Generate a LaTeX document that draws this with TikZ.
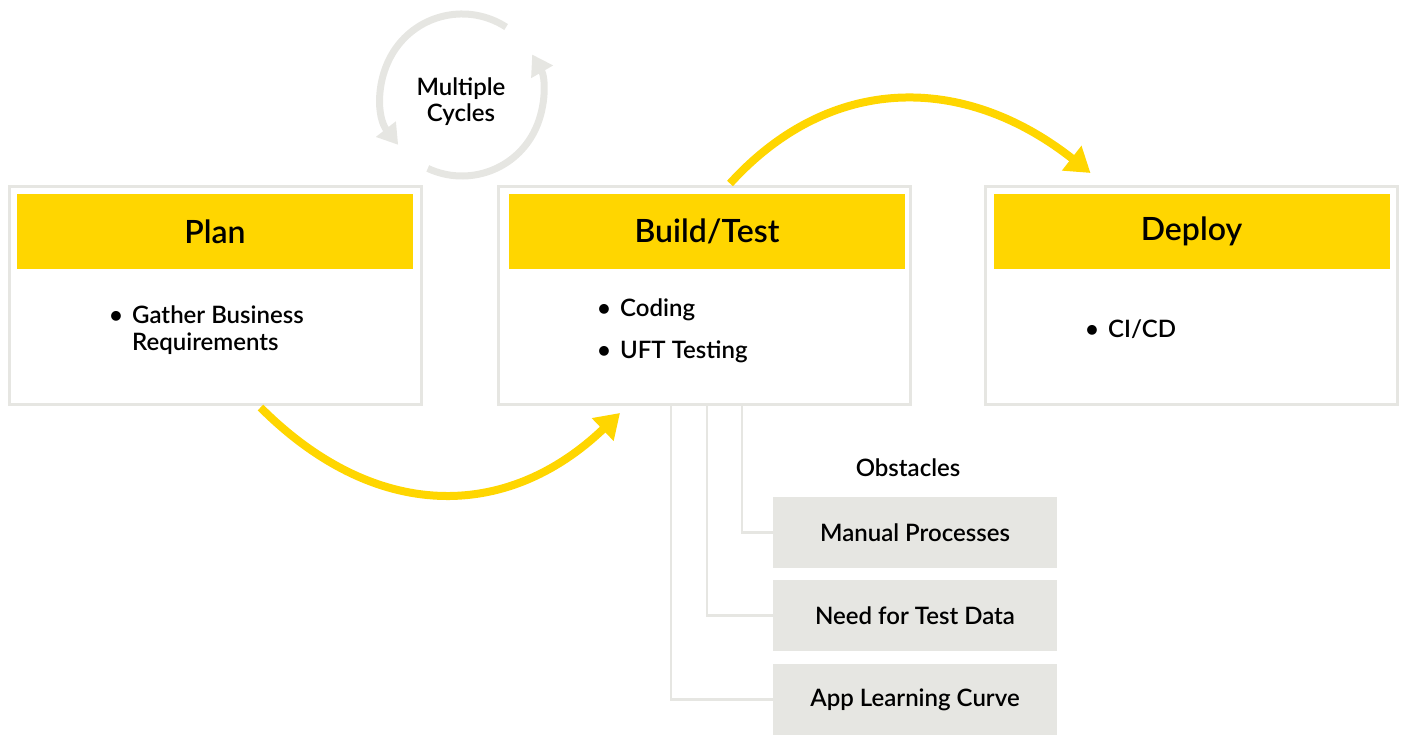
\documentclass[tikz,border=0pt]{standalone}
\usepackage{fontspec}
\setmainfont{Lato}[BoldFont={Lato Semibold}]
\usetikzlibrary{arrows.meta}
\definecolor{gold}{HTML}{FFD600}
\definecolor{pale}{HTML}{E6E6E2}
\begin{document}
\begin{tikzpicture}
[x=1pt,y=1pt,
 frame/.style={draw=pale,line width=3pt,minimum width=412pt,minimum height=218pt,inner sep=0pt},
 head/.style={fill=gold,minimum width=396pt,minimum height=75pt,inner sep=0pt,font=\fontsize{32}{38}\selectfont\bfseries},
 items/.style={anchor=west,inner sep=0pt,align=left,font=\fontsize{24}{27}\selectfont\bfseries},
 label/.style={inner sep=0pt,align=center,font=\fontsize{24}{26}\selectfont\bfseries},
 obstacle/.style={fill=pale,minimum width=284pt,minimum height=71pt,inner sep=0pt,font=\fontsize{24}{26}\selectfont\bfseries},
 flow/.style={draw=gold,line width=8pt,-{Triangle[length=24pt,width=30pt]}},
 turn/.style={draw=pale,line width=7pt,-{Triangle[length=20pt,width=24pt]}},
 link/.style={draw=pale,line width=2.5pt}]
\useasboundingbox (0,0) rectangle (1404,735);
\node[frame] (plan) at (215.5,439.5) {};
\node[head] (planhead) at (215,503.5) {Plan};
\node[items] (planitems) at (109,403) {\begin{tabular}{@{}l@{\hspace{9pt}}l@{}}\textbullet & Gather Business\\ & Requirements\end{tabular}};
\node[frame] (build) at (704,439.5) {};
\node[head] (buildhead) at (707,503.5) {Build/Test};
\node[items] (builditems) at (597,403) {\begin{tabular}{@{}l@{\hspace{9pt}}l@{}}\textbullet & Coding\\[15pt] \textbullet & UFT Testing\end{tabular}};
\node[frame] (deploy) at (1191.5,439.5) {};
\node[head] (deployhead) at (1191.5,503.5) {Deploy};
\node[items] (deployitems) at (1085,403) {\begin{tabular}{@{}l@{\hspace{9pt}}l@{}}\textbullet & CI/CD\end{tabular}};
\draw[flow] ([xshift=45pt,yshift=-1.5pt]plan.south) .. controls +(114,-114) and +(-114,-109) .. ([xshift=-84pt,yshift=-7pt]build.south);
\draw[flow] ([xshift=26pt,yshift=1.5pt]build.north) .. controls +(100,110) and +(-127,100) .. ([xshift=-101pt,yshift=12pt]deploy.north);
\node[label] (cycles) at (461,633) {Multiple\\Cycles};
\coordinate (hub) at (462,640);
\draw[turn] ([shift={(57:81)}]hub) arc[start angle=57,end angle=218,radius=81];
\draw[turn] ([shift={(245:81)}]hub) arc[start angle=245,end angle=390,radius=81];
\node[label] (obstacles) at (908,267) {Obstacles};
\node[obstacle] (manual) at (915,202.5) {Manual Processes};
\node[obstacle] (testdata) at (915,119.5) {Need for Test Data};
\node[obstacle] (curve) at (915,35.5) {App Learning Curve};
\draw[link] ([xshift=38pt]build.south) |- (manual);
\draw[link] ([xshift=3pt]build.south) |- (testdata);
\draw[link] ([xshift=-33pt]build.south) |- (curve);
\end{tikzpicture}
\end{document}
